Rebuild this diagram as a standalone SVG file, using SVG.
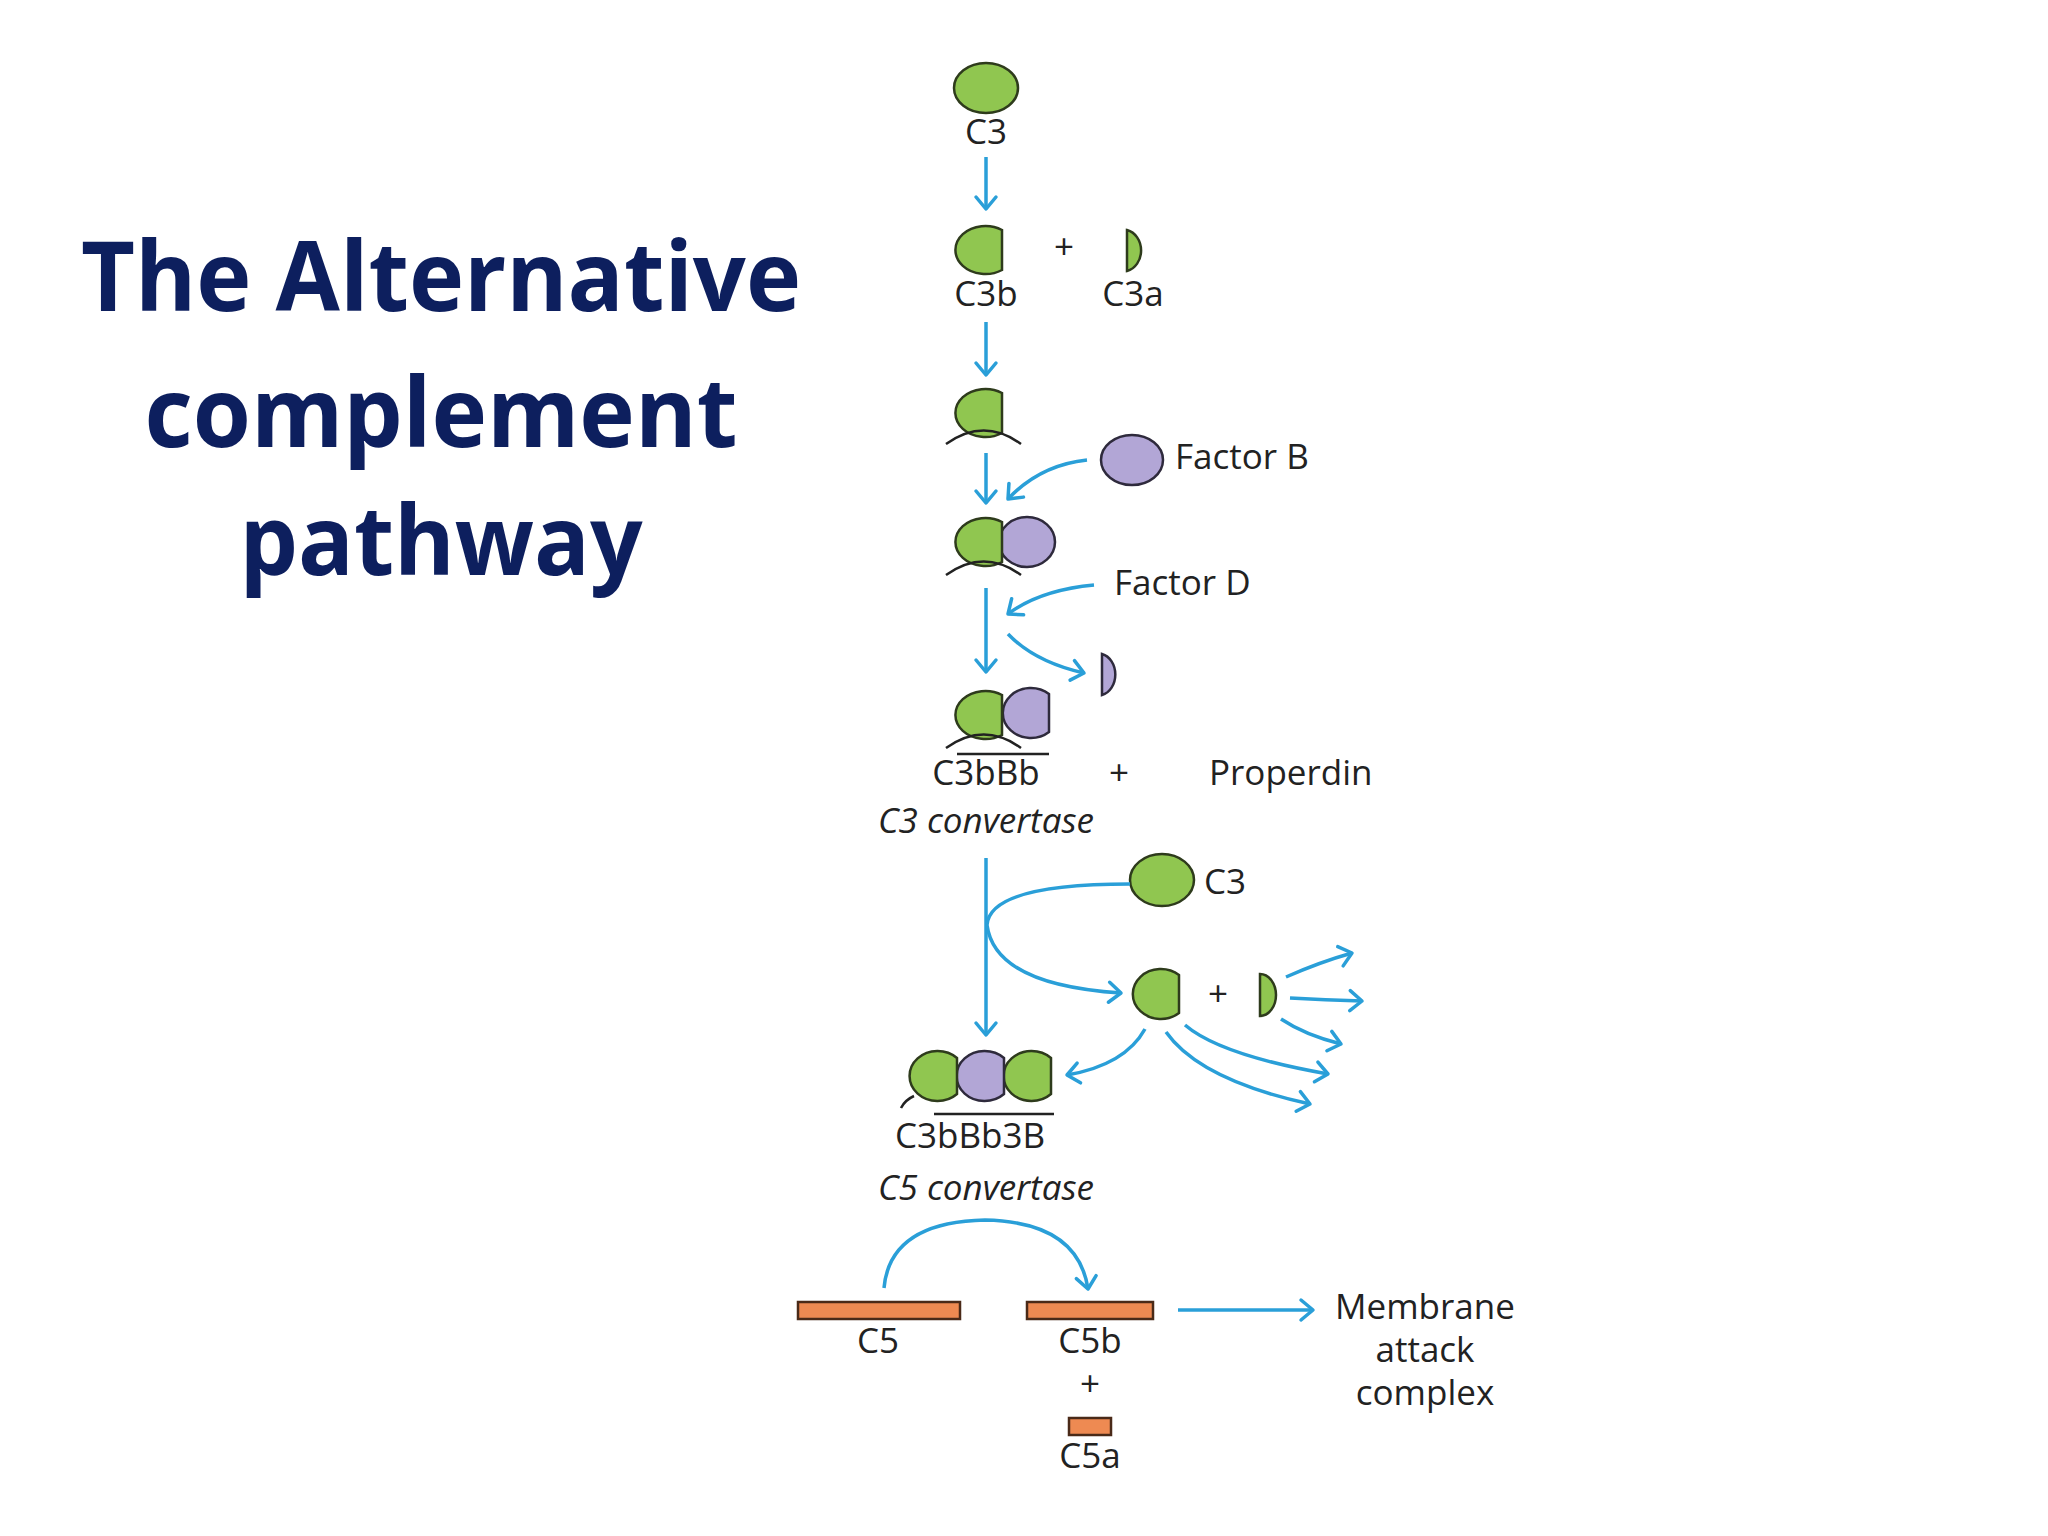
<svg xmlns="http://www.w3.org/2000/svg" width="2048" height="1536" viewBox="0 0 2048 1536">
<defs>
<marker id="ah" markerUnits="userSpaceOnUse" markerWidth="30" markerHeight="30" viewBox="-15 -15 30 30" refX="0" refY="0" orient="auto">
<path d="M-12,-10 L0,0 L-12,10" fill="none" stroke="#2a9fd8" stroke-width="3.5" stroke-linecap="round" stroke-linejoin="round"/>
</marker>
</defs>
<style>
.t{font-family:"Open Sans","DejaVu Sans",sans-serif;font-size:35px;fill:#222}
.i{font-style:italic}
.title{font-family:"Open Sans","Noto Sans",sans-serif;font-weight:bold;font-size:96px;fill:#0d1f5e}
.g{fill:#90c650;stroke:#2e3b1c;stroke-width:2.5}
.p{fill:#b2a6d6;stroke:#2e2a3c;stroke-width:2.5}
.o{fill:#ee8a52;stroke:#4a2a18;stroke-width:2.5}
.c{fill:none;stroke:#2a9fd8;stroke-width:3.5;marker-end:url(#ah)}
.m{fill:none;stroke:#222;stroke-width:2.5}
</style>
<rect width="2048" height="1536" fill="#ffffff"/>
<g id="title">
<text class="title" x="441" y="311" text-anchor="middle" textLength="720" lengthAdjust="spacingAndGlyphs">The Alternative</text>
<text class="title" x="441" y="447" text-anchor="middle" textLength="593" lengthAdjust="spacingAndGlyphs">complement</text>
<text class="title" x="441" y="575" text-anchor="middle" textLength="403" lengthAdjust="spacingAndGlyphs">pathway</text>
</g>
<g id="c3top"><ellipse class="g" cx="986" cy="88" rx="32" ry="25"/><text class="t" x="986" y="144" text-anchor="middle">C3</text></g>
<g id="c3b"><path class="g" d="M1002,230 A30,24 0 1 0 1002,270 Z"/><text class="t" x="986" y="306" text-anchor="middle">C3b</text></g>
<g id="plus1"><text class="t" x="1064" y="259" text-anchor="middle">+</text></g>
<g id="c3a"><path class="g" d="M1127,230 A18,21 0 0 1 1127,271 Z"/><text class="t" x="1133" y="306" text-anchor="middle">C3a</text></g>
<g id="c3bmem"><path class="g" d="M1002,393 A30,24 0 1 0 1002,433 Z"/><path class="m" d="M946,444 Q984,417 1021,444"/></g>
<g id="factorB"><ellipse class="p" cx="1132" cy="460" rx="31" ry="25"/><text class="t" x="1175" y="469">Factor B</text></g>
<g id="c3bB"><ellipse class="p" cx="1027" cy="542" rx="28" ry="25"/><path class="g" d="M1002,522 A30,24 0 1 0 1002,562 Z"/><path class="m" d="M946,575 Q984,548 1021,575"/></g>
<g id="factorD"><text class="t" x="1114" y="595">Factor D</text></g>
<g id="ba"><path class="p" d="M1102,654 A17,21 0 0 1 1102,695 Z"/></g>
<g id="c3bBb"><path class="p" d="M1049,694 A28,25 0 1 0 1049,732 Z"/><path class="g" d="M1002,695 A30,24 0 1 0 1002,735 Z"/><path class="m" d="M946,748 Q984,721 1021,748"/>
<line class="m" x1="957" y1="754" x2="1049" y2="754"/><text class="t" x="986" y="785" text-anchor="middle">C3bBb</text></g>
<g id="plus2"><text class="t" x="1119" y="785" text-anchor="middle">+</text></g>
<g id="properdin"><text class="t" x="1209" y="785">Properdin</text></g>
<g id="c3conv"><text class="t i" x="986" y="833" text-anchor="middle">C3 convertase</text></g>
<g id="c3low"><ellipse class="g" cx="1162" cy="880" rx="32" ry="26"/><text class="t" x="1204" y="894">C3</text></g>
<g id="c3blow"><path class="g" d="M1179,975 A28,25 0 1 0 1179,1013 Z"/></g>
<g id="plus3"><text class="t" x="1218" y="1006" text-anchor="middle">+</text></g>
<g id="c3alow"><path class="g" d="M1260,974 A16,21 0 0 1 1260,1016 Z"/></g>
<g id="c5conv"><path class="g" d="M1051,1058 A28,25 0 1 0 1051,1094 Z"/>
<path class="p" d="M1004,1058 A28,25 0 1 0 1004,1094 Z"/>
<path class="g" d="M957,1058 A28,25 0 1 0 957,1094 Z"/>
<path class="m" d="M901,1108 Q905,1100 914,1096" stroke-width="2"/>
<line class="m" x1="934" y1="1114" x2="1054" y2="1114"/><text class="t" x="970" y="1148" text-anchor="middle">C3bBb3B</text>
<text class="t i" x="986" y="1200" text-anchor="middle">C5 convertase</text></g>
<g id="c5"><rect class="o" x="798" y="1302" width="162" height="17"/><text class="t" x="878" y="1353" text-anchor="middle">C5</text></g>
<g id="c5b"><rect class="o" x="1027" y="1302" width="126" height="17"/><text class="t" x="1090" y="1353" text-anchor="middle">C5b</text><text class="t" x="1090" y="1396" text-anchor="middle">+</text></g>
<g id="c5a"><rect class="o" x="1069" y="1418" width="42" height="17"/><text class="t" x="1090" y="1468" text-anchor="middle">C5a</text></g>
<g id="mac"><text class="t" x="1425" y="1319" text-anchor="middle">Membrane</text><text class="t" x="1425" y="1362" text-anchor="middle">attack</text><text class="t" x="1425" y="1405" text-anchor="middle">complex</text></g>
<g id="connectors">
<path class="c" d="M986,157 L986,209"/>
<path class="c" d="M986,322 L986,375"/>
<path class="c" d="M986,453 L986,503"/>
<path class="c" d="M1087,460 Q1040,465 1008,499"/>
<path class="c" d="M986,588 L986,672"/>
<path class="c" d="M1094,585 Q1040,590 1008,614"/>
<path class="c" d="M1008,634 Q1035,662 1084,673"/>
<path class="c" d="M986,858 L986,1035"/>
<path class="c" d="M1130,884 Q990,884 987,925 Q995,985 1121,993"/>
<path class="c" d="M1286,977 Q1320,962 1352,953"/>
<path class="c" d="M1290,998 Q1325,1000 1362,1001"/>
<path class="c" d="M1281,1019 Q1305,1035 1341,1044"/>
<path class="c" d="M1185,1025 Q1220,1055 1328,1074"/>
<path class="c" d="M1166,1032 Q1200,1080 1310,1104"/>
<path class="c" d="M1145,1029 Q1125,1065 1067,1075"/>
<path class="c" d="M884,1288 Q890,1222 985,1220 Q1078,1222 1088,1289"/>
<path class="c" d="M1178,1310 L1313,1310"/>
</g>
</svg>
